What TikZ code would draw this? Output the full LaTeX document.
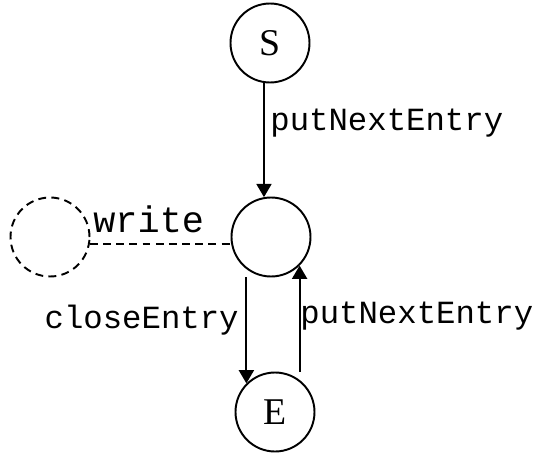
\documentclass[tikz,border=0pt]{standalone}
\usepackage{fontspec}
\setmainfont{Liberation Serif}
\setmonofont{Liberation Mono}
\usepackage{tikz}
\usetikzlibrary{positioning, arrows.meta, calc}

\begin{document}
\begin{tikzpicture}[
        % Style for the state circles
        statenode/.style={
            draw,
            circle,
            line width=1.1pt,
            minimum size=1.58cm,
            inner sep=0pt,
            font=\fontsize{21.5}{25}\selectfont
        },
        % Style for the dashed helper circle
        ghostnode/.style={
            statenode,
            dashed,
            dash pattern=on 4.5pt off 3pt
        },
        % Style for the transition arrows
        trans_arrow/.style={
            -{Triangle[length=7.5pt,width=8.5pt]},
            line width=1.1pt
        },
        % Style for the transition labels
        translabel/.style={
            inner sep=0pt,
            font=\fontsize{18.4}{22}\selectfont\ttfamily
        }
    ]
    \useasboundingbox (0,0) rectangle (10.74,9.14);

    % ==========================================
    % STATES
    % ==========================================
    \node[statenode] (S) at (5.40, 8.28) {S};
    \node[statenode] (mid) at (5.42, 4.40) {};
    \node[statenode] (E) at (5.50, 0.90) {E};
    \node[ghostnode] (ghost) at (1.00, 4.40) {};

    % ==========================================
    % TRANSITIONS
    % ==========================================
    \draw[trans_arrow] (S.south -| mid.100) -- (mid.100);
    \draw[trans_arrow] (mid.south -| E.135) -- (E.135);
    \draw[trans_arrow] (E.north -| mid.-45) -- (mid.-45);
    \draw[line width=1.1pt, dash pattern=on 4.5pt off 3pt] (ghost.-10) -- (mid.190);

    % Labels
    \node[translabel, anchor=base west] (lblStart) at (5.40, 6.54) {putNextEntry};
    \node[translabel, anchor=base east] (lblClose) at (4.78, 2.58) {closeEntry};
    \node[translabel, anchor=base west] (lblNext) at (6.00, 2.68) {putNextEntry};
    \node[translabel, anchor=base west, font=\fontsize{21}{25}\selectfont\ttfamily] (lblWrite) at (1.86, 4.50) {write};
\end{tikzpicture}
\end{document}
